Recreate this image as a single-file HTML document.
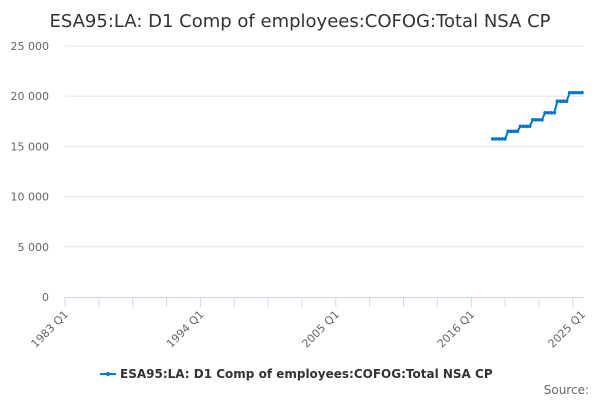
<!DOCTYPE html>
<html><head><meta charset="utf-8"><style>
html,body{margin:0;padding:0;background:#fff;}
svg{display:block;font-family:"DejaVu Sans","Liberation Sans",sans-serif;}
</style></head><body>
<svg id="chart" width="600" height="400" viewBox="0 0 600 400">
<text x="300" y="27" text-anchor="middle" font-size="18" fill="#333">ESA95:LA: D1 Comp of employees:COFOG:Total NSA CP</text>
<g id="grid"></g>
<g id="yaxis"></g>
<g id="xaxis"></g>
<g id="series"></g>
<g>
<line x1="100" y1="374" x2="116" y2="374" stroke="#0077c8" stroke-width="2"/>
<circle cx="108" cy="374" r="2" fill="#0077c8"/>
<text x="120" y="378" font-size="12" font-weight="bold" fill="#333">ESA95:LA: D1 Comp of employees:COFOG:Total NSA CP</text>
</g>
<text x="589" y="394" text-anchor="end" font-size="12" fill="#666">Source:</text>
</svg>
<script>
const yTicks = [0, 5000, 10000, 15000, 20000, 25000];
const yTickLabels = ["0", "5 000", "10 000", "15 000", "20 000", "25 000"];
const xTickLabels = ["1983 Q1", "1994 Q1", "2005 Q1", "2016 Q1", "2025 Q1"];
const xTickYears = [1983, 1994, 2005, 2016, 2025];
const startYear = 2017, startQuarter = 4;
const values = [15750,15750,15750,15750,15750,
16500,16500,16500,16500,
17000,17000,17000,17000,
17650,17650,17650,17650,
18350,18350,18350,18350,
19500,19500,19500,19500,
20350,20350,20350,20350,20350];

const NS="http://www.w3.org/2000/svg";
const X0=65,X1=582,Y0=297,Y1=46;
function xq(q){return X0+(q-1983*4)/(168)*(X1-X0);} // q = year*4 + (quarter-1)
function y(v){return Y0-(v/25000)*(Y0-Y1);}
function mk(tag,at,parent){const e=document.createElementNS(NS,tag);for(const k in at)e.setAttribute(k,at[k]);parent.appendChild(e);return e;}
const grid=document.getElementById('grid'),ya=document.getElementById('yaxis'),xa=document.getElementById('xaxis'),se=document.getElementById('series');
yTicks.forEach((t,i)=>{
  if(t>0){const l=mk('line',{x1:X0,x2:X1+2,y1:y(t),y2:y(t),stroke:'#e6e6e6','stroke-width':1},grid);
  
  }
  const tx=mk('text',{x:49,y:y(t)+4,'text-anchor':'end','font-size':11,fill:'#666'},ya);
  tx.textContent=yTickLabels[i];
  
  
});
const ax=mk('line',{x1:X0,x2:X1+2,y1:Y0+0.5,y2:Y0+0.5,stroke:'#ccd6eb','stroke-width':1},xa);


for(let k=0;k<=16;k++){
  const q=1983*4+k*11;
  const tk=mk('line',{x1:xq(q),x2:xq(q),y1:Y0,y2:Y0+10,stroke:'#ccd6eb','stroke-width':1},xa);
  
  
}
xTickLabels.forEach((lb,i)=>{
  const xx=xq(xTickYears[i]*4);
  const tx=mk('text',{x:xx+4,y:Y0+18,'text-anchor':'end','font-size':11,fill:'#666',transform:`rotate(-45 ${xx+4} ${Y0+18})`},xa);
  tx.textContent=lb;
  
  
});
const pts=values.map((v,i)=>[xq(startYear*4+startQuarter-1+i),y(v)]);
const pl=mk('polyline',{points:pts.map(p=>p.join(',')).join(' '),fill:'none',stroke:'#0077c8','stroke-width':2},se);


pts.forEach(p=>{
  const c=mk('circle',{cx:p[0],cy:p[1],r:1.8,fill:'#0077c8'},se);
  
  
});
</script>
</body></html>
